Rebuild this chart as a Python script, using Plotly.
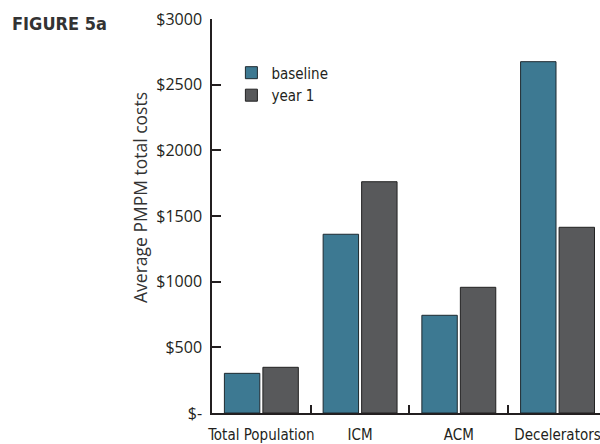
import plotly.graph_objects as go

# Average per-member-per-month total costs by group
categories = ["Total Population", "ICM", "ACM", "Decelerators"]
baseline = [302, 1361, 744, 2675]
year_1 = [348, 1761, 957, 1414]

tick_values = [0, 500, 1000, 1500, 2000, 2500, 3000]
tick_labels = ["$-", "$500", "$1000", "$1500", "$2000", "$2500", "$3000"]

TEAL = "#3d7992"
GRAY = "#58595b"
INK = "#231f20"
SANS = "Open Sans, sans-serif"
NARROW = "DejaVu Sans Condensed, Roboto, sans-serif"

# plot area in pixels (for placing the free-standing y title)
PLOT_LEFT, PLOT_WIDTH = 212, 388
PLOT_TOP, PLOT_BOTTOM = 19, 413


def narrow(size, color=INK, weight="normal"):
    return dict(family=NARROW, size=size, color=color, weight=weight)


fig = go.Figure()
fig.add_trace(go.Bar(
    name="baseline", x=categories, y=baseline,
    marker=dict(color=TEAL, line=dict(color="#1e2a30", width=1)),
))
fig.add_trace(go.Bar(
    name="year 1", x=categories, y=year_1,
    marker=dict(color=GRAY, line=dict(color="#222222", width=1)),
))

fig.update_layout(
    width=600, height=444,
    margin=dict(l=PLOT_LEFT, r=600 - PLOT_LEFT - PLOT_WIDTH, t=PLOT_TOP,
                b=444 - PLOT_BOTTOM, autoexpand=False),
    paper_bgcolor="white", plot_bgcolor="white",
    barmode="group", bargap=0.22, bargroupgap=0.08,
    title=dict(
        text="FIGURE 5a", x=12 / 600, y=1 - 24 / 444,
        xanchor="left", yanchor="middle", xref="container", yref="container",
        font=narrow(18, "#333333", "bold"),
    ),
    showlegend=True,
    legend=dict(
        x=0.05, y=0.905, xanchor="left", yanchor="top",
        bgcolor="rgba(0,0,0,0)", traceorder="normal",
        font=narrow(15),
        itemwidth=30,
    ),
    xaxis=dict(
        type="category", range=[-0.5, 3.43], automargin=False, tickangle=0,
        showline=True, linecolor=INK, linewidth=1.5,
        ticks="inside", tickson="boundaries", ticklen=8, tickwidth=1.5, tickcolor=INK,
        ticklabelstandoff=7,
        tickfont=narrow(15),
        showgrid=False, zeroline=False,
    ),
    yaxis=dict(
        range=[0, 3000], tickvals=tick_values, ticktext=tick_labels, automargin=False,
        showline=True, linecolor=INK, linewidth=1.5,
        ticks="inside", ticklen=9, tickwidth=1.5, tickcolor=INK,
        ticklabelstandoff=5,
        tickfont=dict(family=SANS, size=16, color=INK),
        showgrid=False, zeroline=False,
    ),
    annotations=[dict(
        text="Average PMPM total costs", textangle=-90, showarrow=False,
        xref="paper", yref="paper",
        x=(140 - PLOT_LEFT) / PLOT_WIDTH,
        y=(PLOT_BOTTOM - 198) / (PLOT_BOTTOM - PLOT_TOP),
        xanchor="center", yanchor="middle",
        font=dict(family=SANS, size=17.5, color="#333333"),
    )],
)

fig.write_html("out.html")
